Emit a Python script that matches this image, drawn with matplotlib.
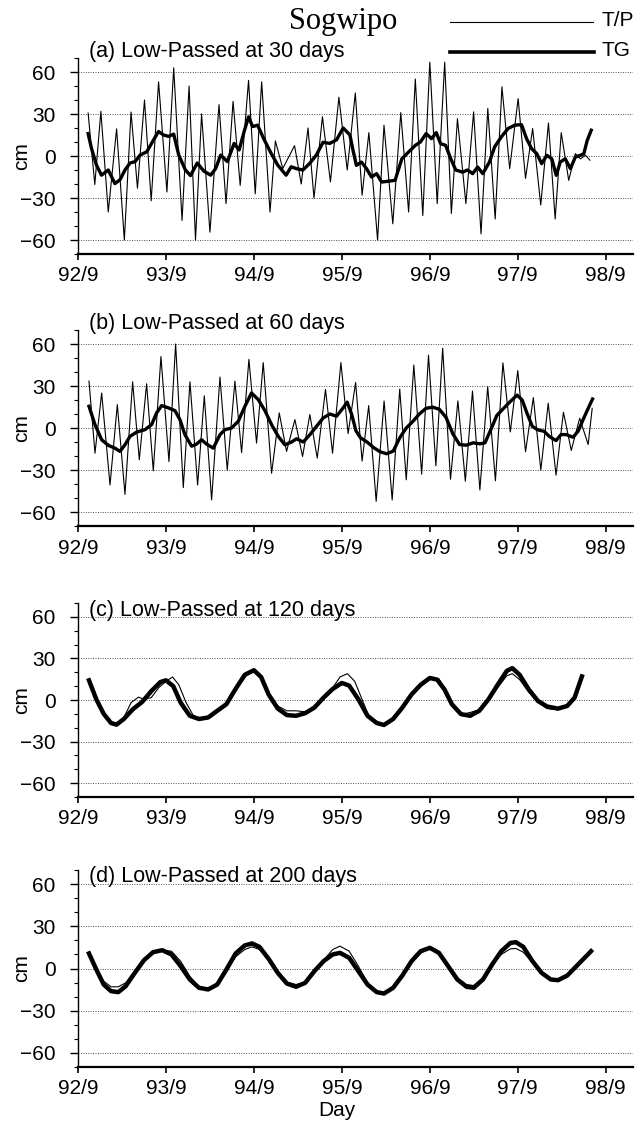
import matplotlib
matplotlib.use('Agg')
import matplotlib.pyplot as plt
from matplotlib.lines import Line2D
from matplotlib.ticker import FixedLocator, MultipleLocator

plt.rcParams['font.family'] = ['Liberation Sans', 'DejaVu Sans']

# time axis: years since Sep 1992
YEAR_TICKS = [0, 1, 2, 3, 4, 5, 6]
YEAR_LABELS = ['92/9', '93/9', '94/9', '95/9', '96/9', '97/9', '98/9']
CM_TICKS = [-60, -30, 0, 30, 60]
PANEL_TITLES = ['(a) Low-Passed at 30 days', '(b) Low-Passed at 60 days',
                '(c) Low-Passed at 120 days', '(d) Low-Passed at 200 days']

# (a) 30 days
tp30_t = [0.115, 0.191, 0.26, 0.344, 0.439, 0.527, 0.603, 0.676, 0.756, 0.832,
          0.916, 1.011, 1.088, 1.183, 1.263, 1.336, 1.405, 1.5, 1.603, 1.683,
          1.763, 1.844, 1.939, 2.015, 2.088, 2.183, 2.244, 2.328, 2.462, 2.538,
          2.615, 2.683, 2.779, 2.87, 2.966, 3.061, 3.153, 3.23, 3.307, 3.406,
          3.479, 3.579, 3.67, 3.759, 3.835, 3.92, 4.0, 4.084, 4.169, 4.245,
          4.314, 4.41, 4.498, 4.582, 4.659, 4.743, 4.82, 4.908, 5.004, 5.088,
          5.169, 5.261, 5.349, 5.425, 5.494, 5.579, 5.655, 5.713, 5.77, 5.82]
tp30_v = [30.7, -20.4, 31.9, -40, 19.4, -60, 31.4, -23, 40, -32,
          53, -25.7, 63, -46, 50, -60, 30, -54.4, 36.7, -34,
          39, -21, 54, -27, 53, -40, 10.8, -9, 7.4, -20,
          20, -30, 28, -18.5, 42, -10, 45, -28, 16.7, -60,
          22, -48.4, 31, -40, 55, -42.5, 67, -34, 67, -41,
          26.7, -34, 31.5, -55.6, 34, -45, 49.4, -9, 41, -16,
          19.6, -35, 23.6, -45, 16.7, -17.4, 1.7, -2, 0.5, -3]
tg30_t = [0.115, 0.153, 0.21, 0.267, 0.344, 0.42, 0.477, 0.534, 0.592, 0.649,
          0.706, 0.782, 0.859, 0.916, 0.973, 1.031, 1.088, 1.145, 1.221, 1.279,
          1.355, 1.431, 1.508, 1.565, 1.622, 1.698, 1.775, 1.832, 1.889, 1.939,
          1.985, 2.042, 2.118, 2.195, 2.271, 2.366, 2.424, 2.481, 2.557, 2.634,
          2.71, 2.786, 2.863, 2.939, 3.015, 3.092, 3.12, 3.165, 3.222, 3.28,
          3.337, 3.395, 3.452, 3.529, 3.605, 3.682, 3.759, 3.835, 3.893, 3.958,
          4.019, 4.073, 4.123, 4.18, 4.238, 4.295, 4.372, 4.429, 4.487, 4.544,
          4.602, 4.678, 4.736, 4.812, 4.889, 4.966, 5.042, 5.1, 5.157, 5.215,
          5.272, 5.33, 5.387, 5.437, 5.483, 5.54, 5.598, 5.655, 5.713, 5.751,
          5.789, 5.835]
tg30_v = [16, 5.5, -6.5, -13.7, -10, -19.7, -17, -10, -5, -4,
          0.7, 3, 11.5, 17.5, 15, 14, 15.6, 0.7, -10, -14,
          -5, -10.8, -13.7, -9, 0.7, -4, 9, 4.3, 17.5, 28,
          21, 22, 11.5, 2, -6.5, -13.7, -7.7, -9, -10, -5.3,
          0.7, 9.8, 9, 11.5, 20, 15, 6, -6.7, -4.3, -9,
          -15, -12.6, -18.6, -18, -17.4, -2, 2.9, 7.6, 10, 16,
          12.4, 16.7, 8.8, 7.6, -2, -10, -11.5, -10, -12.6, -7.9,
          -12.6, -4.3, 6.4, 13.6, 19.6, 22, 22.4, 12.4, 5.3, 1.7,
          -5.5, 0.5, -2, -13.8, -4.3, -2, -9, -0.7, 0.5, 1.7,
          11, 18.4]

# (b) 60 days
tp60_t = [0.125, 0.193, 0.269, 0.364, 0.447, 0.534, 0.621, 0.697, 0.78, 0.856,
          0.943, 1.034, 1.11, 1.197, 1.273, 1.36, 1.436, 1.519, 1.614, 1.697,
          1.784, 1.86, 1.943, 2.03, 2.106, 2.201, 2.288, 2.371, 2.466, 2.553,
          2.636, 2.72, 2.814, 2.894, 2.989, 3.071, 3.156, 3.23, 3.305, 3.39,
          3.48, 3.572, 3.658, 3.732, 3.818, 3.907, 3.985, 4.069, 4.146, 4.235,
          4.319, 4.404, 4.485, 4.569, 4.658, 4.746, 4.831, 4.915, 5.0, 5.088,
          5.177, 5.262, 5.346, 5.435, 5.519, 5.608, 5.704, 5.8, 5.846]
tp60_v = [33.5, -18, 25, -40.7, 16.7, -47.4, 33, -22.7, 31.6, -30.6,
          51, -24, 60, -42.6, 33, -40.7, 23, -51.4, 36.4, -30,
          33.5, -17.5, 49, -10.8, 46.7, -32.3, 10.8, -16.7, 6, -20.3,
          9.6, -21.5, 27.5, -18, 46.7, -4, 32.5, -23.6, 16, -52.4,
          19.3, -51.4, 27.8, -37, 45, -33, 52, -27, 57, -36.6,
          19.3, -38, 26.4, -44.3, 29.5, -37.7, 46.5, -2.8, 41, -17,
          21.7, -30, 17.7, -33.7, 11.3, -16, 7, -11.8, 14]
tg60_t = [0.125, 0.193, 0.269, 0.345, 0.42, 0.477, 0.534, 0.591, 0.667, 0.761,
          0.837, 0.894, 0.951, 1.027, 1.102, 1.159, 1.216, 1.292, 1.348, 1.405,
          1.462, 1.538, 1.614, 1.67, 1.746, 1.822, 1.898, 1.973, 2.049, 2.125,
          2.201, 2.277, 2.352, 2.428, 2.485, 2.561, 2.636, 2.712, 2.788, 2.864,
          2.939, 3.015, 3.06, 3.11, 3.16, 3.212, 3.286, 3.361, 3.435, 3.509,
          3.584, 3.658, 3.732, 3.807, 3.881, 3.955, 4.031, 4.108, 4.185, 4.262,
          4.338, 4.415, 4.492, 4.569, 4.627, 4.685, 4.762, 4.838, 4.915, 4.992,
          5.05, 5.108, 5.165, 5.223, 5.3, 5.358, 5.435, 5.492, 5.55, 5.627,
          5.685, 5.742, 5.8, 5.85]
tg60_v = [15.5, 2.4, -8.4, -12.4, -14.4, -16.7, -12, -6, -2.9, -1.2,
          2.4, 10.8, 16, 14.4, 12.4, 6, -4.8, -13, -11.5, -8.4,
          -11.5, -14.4, -4.8, -1.2, 0, 4.8, 15.5, 25, 20.3, 12.4,
          2.4, -6, -12, -10, -7.7, -10, -4.8, 1.2, 7.2, 10,
          8.4, 14.4, 18.5, 10, -2, -7, -10, -14, -17, -18.4,
          -16.5, -7, 0, 4.7, 10, 14, 14.9, 13.4, 7.5, -4.2,
          -11.8, -12.3, -10.6, -11.3, -10.6, -2.4, 9, 14, 18.9, 23.5,
          20, 10, 1.2, -1.2, -2.4, -6, -9, -4.7, -4.7, -6.6,
          -2.4, 5.9, 14, 20.7]

# (c) 120 days
tp120_t = [0.125, 0.208, 0.292, 0.375, 0.4375, 0.521, 0.604, 0.6875, 0.75, 0.833,
           0.917, 1.0, 1.075, 1.146, 1.229, 1.3125, 1.417, 1.521, 1.625, 1.729,
           1.833, 1.9375, 2.0, 2.083, 2.167, 2.271, 2.375, 2.479, 2.583, 2.6875,
           2.792, 2.896, 2.979, 3.0625, 3.146, 3.229, 3.3125, 3.396, 3.479, 3.583,
           3.6875, 3.792, 3.896, 4.0, 4.104, 4.1875, 4.271, 4.375, 4.458, 4.5625,
           4.667, 4.771, 4.875, 4.9375, 5.021, 5.125, 5.229, 5.333, 5.458, 5.5625,
           5.646, 5.729]
tp120_v = [14.2, 0.9, -9, -16, -17.5, -12.6, -1.9, 2.1, 0.5, 1.7,
           8.8, 13.5, 16.6, 11, -1.9, -11.4, -14.2, -12, -6.2, 0.5,
           11, 19.4, 21.3, 16.6, 5.2, -4.3, -7.8, -7.8, -8.5, -6.2,
           0.5, 8.8, 16.6, 19, 13.5, 0.5, -12.6, -16.6, -17.5, -13.3,
           -4.3, 5.2, 10, 14.7, 15.2, 6.4, -4.3, -10.2, -9, -7.1,
           -0.7, 8.8, 17.5, 19, 14.7, 5.7, -1.4, -6.2, -7.1, -4.7,
           1.7, 16.6]
tg120_t = [0.125, 0.208, 0.292, 0.375, 0.4375, 0.521, 0.625, 0.729, 0.833, 0.9375,
           1.0, 1.083, 1.167, 1.271, 1.375, 1.479, 1.583, 1.6875, 1.792, 1.896,
           2.0, 2.083, 2.167, 2.271, 2.375, 2.479, 2.583, 2.6875, 2.792, 2.896,
           3.0, 3.083, 3.1875, 3.292, 3.396, 3.479, 3.583, 3.6875, 3.792, 3.896,
           4.0, 4.083, 4.167, 4.25, 4.354, 4.458, 4.5625, 4.667, 4.771, 4.875,
           4.9375, 5.021, 5.125, 5.229, 5.333, 5.458, 5.5625, 5.646, 5.729]
tg120_v = [14.2, 0.5, -10, -16.6, -17.8, -13.7, -6.6, -1.4, 6.4, 13,
           14.2, 10, -1.9, -11.4, -13.7, -12.6, -7.8, -3, 8, 18.2,
           21.5, 16.5, 4, -6.2, -10.9, -11.4, -9.5, -5.5, 1.7, 8,
           12.3, 10.4, 0.5, -11.4, -16.6, -18, -13.7, -5.5, 4, 11,
           15.9, 14.7, 7.6, -3, -10.2, -11.4, -7.8, 0.5, 11, 21,
           23, 18.2, 7.6, -0.7, -4.7, -6.2, -4.3, 1.7, 17]

# (d) 200 days
t200 = [0.125, 0.208, 0.292, 0.375, 0.458, 0.542, 0.646, 0.75, 0.854, 0.958,
        1.0625, 1.167, 1.271, 1.375, 1.479, 1.583, 1.6875, 1.792, 1.896, 1.979,
        2.0625, 2.167, 2.271, 2.375, 2.479, 2.583, 2.6875, 2.792, 2.896, 2.979,
        3.083, 3.1875, 3.292, 3.396, 3.479, 3.583, 3.6875, 3.792, 3.896, 4.0,
        4.104, 4.208, 4.3125, 4.417, 4.5, 4.604, 4.708, 4.8125, 4.917, 4.979,
        5.0625, 5.167, 5.271, 5.375, 5.458, 5.5625, 5.667, 5.833]
tp200_v = [10.7, 0.5, -9, -13, -13, -10.2, -1.9, 6.9, 11.6, 13,
           12.3, 5.2, -5.5, -13, -15.4, -11.4, -1.9, 8.3, 13.5, 15.4,
           13.5, 5.9, -3.6, -9.7, -11.4, -9.7, -1.9, 5.9, 13.5, 15.9,
           12.3, 1.7, -10.2, -16.1, -17.8, -13.7, -5, 4.5, 11.1, 14,
           10.7, 1.7, -6.6, -11.4, -12.1, -6.6, 2.8, 10, 14, 14.2,
           11.6, 4, -3.6, -7.8, -8.5, -5.5, 1.2, 12.3]
tg200_v = [10.7, -0.7, -11.4, -16.1, -16.8, -12.6, -3.1, 5.9, 11.6, 13,
           10, 1.7, -7.8, -13.7, -14.9, -11.4, -0.7, 10.7, 16.4, 17.8,
           15.4, 6.9, -3.1, -10.7, -13, -10.2, -1.9, 5.2, 10, 11.1,
           7.6, -1.9, -11.4, -16.8, -17.8, -13.7, -5, 5.2, 12.3, 14.7,
           11.1, 1.7, -7.8, -13, -13.7, -7.8, 2.8, 12.3, 18.2, 18.7,
           15.4, 5.2, -3.1, -7.8, -8.3, -5, 1.7, 12.3]

panels = [
    (tp30_t, tp30_v, tg30_t, tg30_v),
    (tp60_t, tp60_v, tg60_t, tg60_v),
    (tp120_t, tp120_v, tg120_t, tg120_v),
    (t200, tp200_v, t200, tg200_v),
]

W, H = 643, 1122
fig = plt.figure(figsize=(W / 100, H / 100), dpi=100)

# axes boxes in pixels: (top, bottom)
boxes = [(58, 254), (330, 526), (603, 797), (870, 1067)]
left_px, right_px = 78, 633
label_y = [74.5, 74.5, 64.5, 65.5]
tg_width = [2.4, 2.4, 3.2, 3.2]

for i, (top, bottom) in enumerate(boxes):
    ax = fig.add_axes([left_px / W, 1 - bottom / H,
                       (right_px - left_px) / W, (bottom - top) / H])
    tp_t, tp_v, tg_t, tg_v = panels[i]
    ax.plot(tp_t, tp_v, color='black', lw=0.8, zorder=3,
            solid_joinstyle='round')
    ax.plot(tg_t, tg_v, color='black', lw=tg_width[i], zorder=4,
            solid_joinstyle='round')

    ax.set_xlim(0, 6.31)
    ax.set_ylim(-70, 70)
    ax.xaxis.set_major_locator(FixedLocator(YEAR_TICKS))
    ax.set_xticklabels(YEAR_LABELS)
    ax.yaxis.set_major_locator(FixedLocator(CM_TICKS))
    ax.yaxis.set_minor_locator(MultipleLocator(10))

    ax.grid(axis='y', which='major', color='0.3', lw=0.7,
            linestyle=(0, (1, 1.5)))
    ax.set_axisbelow(True)
    for s in ['top', 'right']:
        ax.spines[s].set_visible(False)
    ax.spines['bottom'].set_linewidth(1.6)
    ax.spines['left'].set_linewidth(1.0)

    ax.tick_params(axis='x', direction='out', length=4, width=1.2,
                   pad=5, labelsize=15)
    ax.tick_params(axis='y', which='major', direction='out', length=6,
                   width=1.0, pad=10, labelsize=15)
    ax.tick_params(axis='y', which='minor', direction='out', length=3,
                   width=0.8)

    ax.set_ylabel('cm', fontsize=15)
    ax.yaxis.set_label_coords(-(left_px - 31) / (right_px - left_px), 0.5)

    ax.text(0.12, label_y[i], PANEL_TITLES[i], fontsize=15.5,
            ha='left', va='center', clip_on=False)

# title and legend
fig.text(343 / W, 1 - 21 / H, 'Sogwipo', fontsize=22, ha='center',
         va='center', family='Liberation Serif')
fig.add_artist(Line2D([450 / W, 593 / W], [1 - 22 / H, 1 - 22 / H],
                      color='black', lw=0.8))
fig.add_artist(Line2D([450 / W, 594 / W], [1 - 52 / H, 1 - 52 / H],
                      color='black', lw=2.6))
fig.text(601 / W, 1 - 20 / H, 'T/P', fontsize=15, ha='left', va='center')
fig.text(601 / W, 1 - 51 / H, 'TG', fontsize=15, ha='left', va='center')

fig.text(337 / W, 1 - 1110 / H, 'Day', fontsize=15, ha='center', va='center')

fig.savefig('out.png', dpi=100)
